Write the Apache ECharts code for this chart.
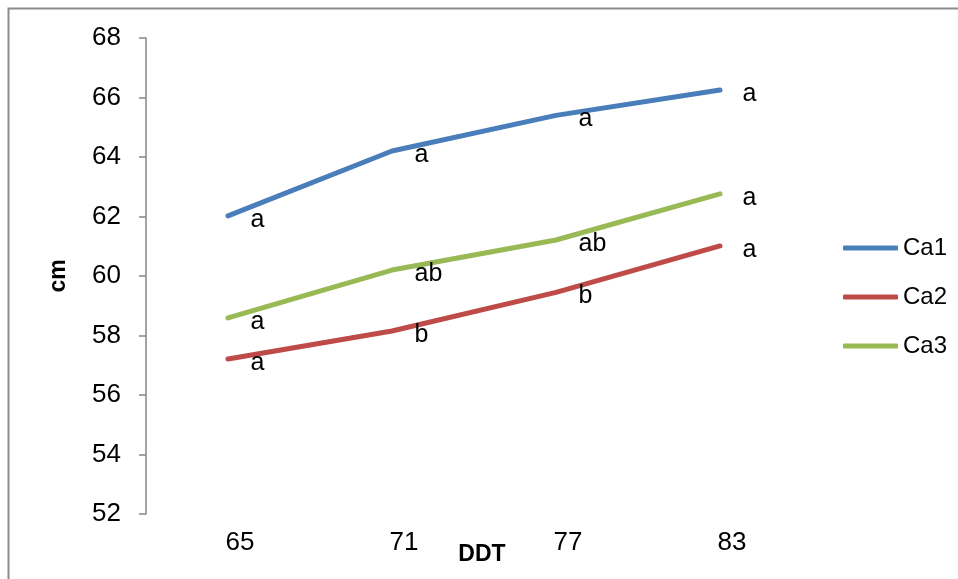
<!DOCTYPE html>
<html>
<head>
<meta charset="utf-8">
<script src="https://cdn.jsdelivr.net/npm/echarts@6/dist/echarts.min.js"></script>
<style>
  html, body { margin: 0; padding: 0; background: #fff; }
  #chart { width: 958px; height: 579px; }
</style>
</head>
<body>
<div id="chart"></div>
<script>
// DDT categories and mean values (cm) per treatment
const categories = ['65', '71', '77', '83'];
const ca1 = [62.02, 64.2, 65.4, 66.25];
const ca2 = [57.21, 58.15, 59.45, 61.01];
const ca3 = [58.59, 60.2, 61.21, 62.76];
// significance letters shown beside each point
const ca1Letters = ['a', 'a', 'a', 'a'];
const ca2Letters = ['a', 'b', 'b', 'a'];
const ca3Letters = ['a', 'ab', 'ab', 'a'];

const FONT = '"Liberation Sans", Arial, sans-serif';
const AXIS_GREY = '#868686';

function makeSeries(name, values, letters, color) {
  return {
    name: name,
    type: 'line',
    data: values,
    symbol: 'circle',
    symbolSize: 1,
    showSymbol: true,
    itemStyle: { color: color },
    lineStyle: { color: color, width: 5, cap: 'round', join: 'round' },
    label: {
      show: true,
      position: 'right',
      distance: 22,
      offset: [0, 4],
      color: '#000',
      fontFamily: FONT,
      fontSize: 25,
      formatter: p => letters[p.dataIndex]
    },
    emphasis: { disabled: true },
    animation: false
  };
}

const chart = echarts.init(document.getElementById('chart'), null, { renderer: 'canvas' });
chart.setOption({
  backgroundColor: '#fff',
  animation: false,
  graphic: [{
    type: 'rect',
    shape: { x: 8.5, y: 8.5, width: 1000, height: 1000 },
    style: { fill: 'none', stroke: '#8c8c8c', lineWidth: 2 },
    silent: true
  }],
  grid: { left: 146, top: 38, right: 156, bottom: 65, outerBoundsMode: 'none', containLabel: false },
  legend: {
    orient: 'vertical',
    left: 843,
    top: 236,
    padding: 0,
    icon: 'roundRect',
    itemWidth: 55,
    itemHeight: 5,
    itemGap: 25,
    textStyle: { fontFamily: FONT, fontSize: 24, color: '#000' },
    data: ['Ca1', 'Ca2', 'Ca3']
  },
  xAxis: {
    type: 'category',
    data: categories,
    boundaryGap: true,
    name: 'DDT',
    nameLocation: 'middle',
    nameGap: 29,
    nameMoveOverlap: false,
    nameTextStyle: { fontFamily: FONT, fontSize: 23, fontWeight: 'bold', color: '#000', padding: [0, 0, 0, 16] },
    axisLine: { show: false },
    axisTick: { show: false },
    axisLabel: { margin: 16, fontFamily: FONT, fontSize: 26, color: '#000', padding: [0, 0, 0, 24] },
    splitLine: { show: false }
  },
  yAxis: {
    type: 'value',
    min: 52,
    max: 68,
    interval: 2,
    name: 'cm',
    nameLocation: 'middle',
    nameGap: 76,
    nameRotate: 90,
    nameMoveOverlap: false,
    nameTextStyle: { fontFamily: FONT, fontSize: 23, fontWeight: 'bold', color: '#000' },
    axisLine: { show: true, lineStyle: { color: AXIS_GREY, width: 1.5 } },
    axisTick: { show: true, length: 7, inside: false, lineStyle: { color: AXIS_GREY, width: 1.5 } },
    axisLabel: { margin: 25, fontFamily: FONT, fontSize: 26, color: '#000' },
    splitLine: { show: false }
  },
  series: [
    makeSeries('Ca1', ca1, ca1Letters, '#4A7EBB'),
    makeSeries('Ca2', ca2, ca2Letters, '#BE4B48'),
    makeSeries('Ca3', ca3, ca3Letters, '#98B954')
  ]
});
</script>
</body>
</html>
